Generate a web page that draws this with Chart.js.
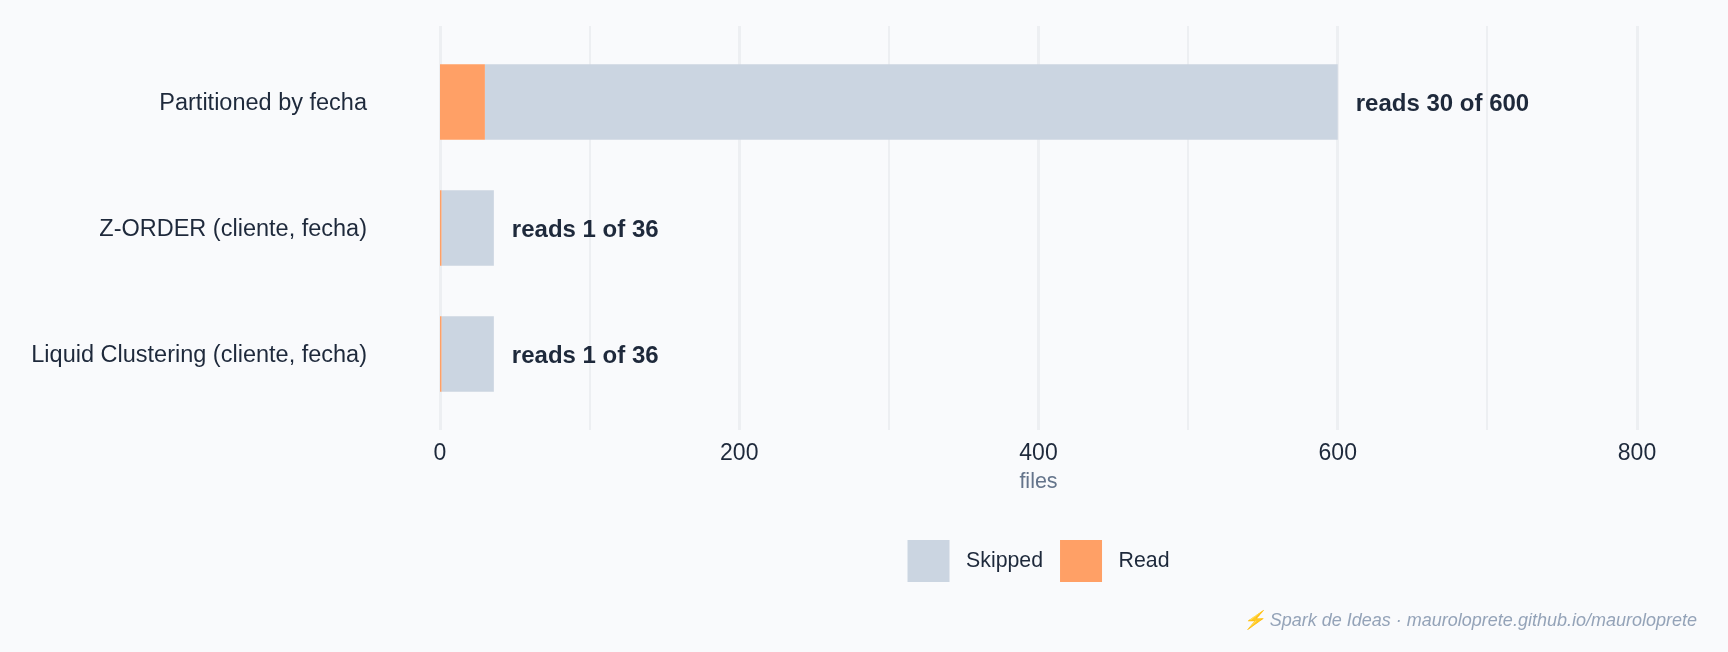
<!DOCTYPE html>
<html lang="en">
<head>
    <meta charset="UTF-8">
    <title>Files read</title>
    <script src="https://cdn.jsdelivr.net/npm/chart.js@4/dist/chart.umd.min.js"></script>
    <style>
        html, body { margin: 0; padding: 0; background: #f9fafc; }
        #wrap { position: relative; width: 1728px; height: 652px; }
        #footer {
            position: absolute; right: 31px; top: 609px;
            font: italic 18px "Liberation Sans", Arial, sans-serif; color: #94a3b8;
        }
    </style>
</head>
<body>
<div id="wrap">
    <canvas id="main_chart"></canvas>
    <div id="footer"></div>
</div>
<script>
    const categories = ['Partitioned by fecha', 'Z-ORDER (cliente, fecha)', 'Liquid Clustering (cliente, fecha)'];
    const readValues = [30, 1, 1];
    const skippedValues = [570, 35, 35];
    const xTicks = [0, 100, 200, 300, 400, 500, 600, 700, 800];
    const footerText = '⚡ Spark de Ideas · mauroloprete.github.io/mauroloprete';

    const FONT = '"Liberation Sans", Arial, sans-serif';
    const TEXT_COLOR = '#1e293b';

    document.getElementById('footer').textContent = footerText;

    // draws "reads x of y" at the end of every stacked bar
    const barNotes = {
        id: 'barNotes',
        afterDatasetsDraw(chart) {
            const {ctx, scales: {x, y}} = chart;
            ctx.save();
            ctx.font = 'bold 24px ' + FONT;
            ctx.fillStyle = TEXT_COLOR;
            ctx.textAlign = 'left';
            ctx.textBaseline = 'middle';
            categories.forEach((c, i) => {
                const total = readValues[i] + skippedValues[i];
                ctx.fillText('reads ' + readValues[i] + ' of ' + total, x.getPixelForValue(total) + 18, y.getPixelForValue(i) + 2);
            });
            ctx.restore();
        }
    };

    const toPoints = values => values.map((v, i) => ({x: v, y: i}));

    new Chart(document.getElementById('main_chart').getContext('2d'), {
        type: 'bar',
        plugins: [barNotes],
        data: {
            datasets: [
                {label: 'Read', data: toPoints(readValues), backgroundColor: '#ffa066', order: 1},
                {label: 'Skipped', data: toPoints(skippedValues), backgroundColor: '#cbd5e1', order: 2}
            ]
        },
        options: {
            indexAxis: 'y',
            animation: false,
            responsive: true,
            maintainAspectRatio: false,
            categoryPercentage: 1,
            barPercentage: 0.6,
            layout: {padding: {top: 26, right: 91, left: 0, bottom: 60}},
            scales: {
                x: {
                    stacked: true,
                    min: 0,
                    max: 800,
                    afterBuildTicks: scale => {
                        scale.ticks = xTicks.map(value => ({value}));
                        // bars start on the zero line, not half a line width after it
                        scale.getLineWidthForValue = () => 0;
                    },
                    afterFit: scale => { scale.height = 93; },
                    border: {display: false},
                    grid: {
                        drawTicks: false,
                        color: '#edeff2',
                        lineWidth: ctx => ctx.tick.value % 200 === 0 ? 3 : 2
                    },
                    ticks: {
                        autoSkip: false,
                        maxRotation: 0,
                        padding: 10,
                        color: TEXT_COLOR,
                        font: {family: FONT, size: 23},
                        callback: value => value % 200 === 0 ? String(value) : ''
                    },
                    title: {
                        display: true,
                        text: 'files',
                        color: '#64748b',
                        padding: {top: 0, bottom: 28},
                        font: {family: FONT, size: 21.5}
                    }
                },
                y: {
                    type: 'linear',
                    offset: false,
                    stacked: true,
                    reverse: true,
                    min: -0.603,
                    max: 2.603,
                    afterBuildTicks: scale => { scale.ticks = categories.map((c, i) => ({value: i})); },
                    afterFit: scale => {
                        scale.width = 440;
                        // tick padding would otherwise also push the plot top and bottom in
                        scale.paddingTop = 0;
                        scale.paddingBottom = 0;
                    },
                    border: {display: false},
                    grid: {display: false, drawTicks: false},
                    ticks: {
                        padding: 73,
                        labelOffset: 2,
                        color: TEXT_COLOR,
                        font: {family: FONT, size: 23.5},
                        callback: value => categories[value]
                    }
                }
            },
            plugins: {
                tooltip: {enabled: false},
                legend: {
                    position: 'bottom',
                    fullSize: false,
                    reverse: true,
                    labels: {
                        boxWidth: 42,
                        boxHeight: 42,
                        padding: 17,
                        color: TEXT_COLOR,
                        font: {family: FONT, size: 21.3},
                        generateLabels: chart => Chart.defaults.plugins.legend.labels.generateLabels(chart)
                            .map(item => ({...item, text: ' ' + item.text, lineWidth: 0}))
                    }
                }
            }
        }
    });
</script>
</body>
</html>
